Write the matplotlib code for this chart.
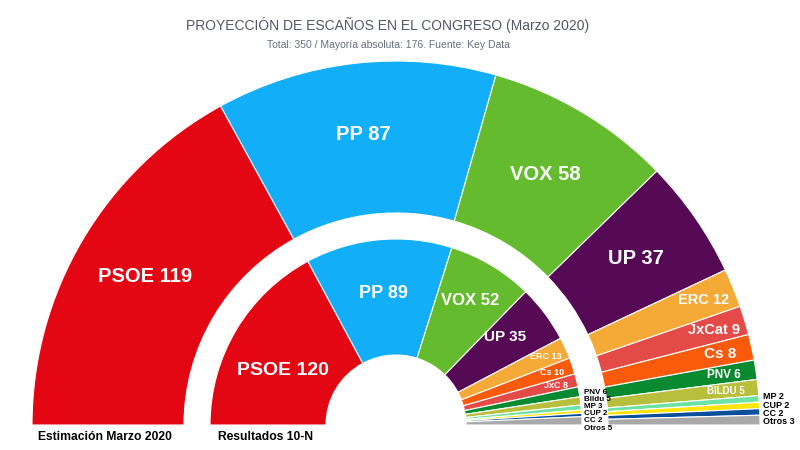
import matplotlib.pyplot as plt
from matplotlib.patches import Wedge
import numpy as np

plt.rcParams['font.family'] = ['Liberation Sans', 'DejaVu Sans']

total = 350

# Estimación Marzo 2020 (outer ring)
est_parties = ["PSOE", "PP", "VOX", "UP", "ERC", "JxCat", "Cs", "PNV", "BILDU",
               "MP", "CUP", "CC", "Otros"]
est_seats = [119, 87, 58, 37, 12, 9, 8, 6, 5, 2, 2, 2, 3]

# Resultados 10-N (inner ring)
res_parties = ["PSOE", "PP", "VOX", "UP", "ERC", "Cs", "JxC", "PNV", "Bildu",
               "MP", "CUP", "CC", "Otros"]
res_seats = [120, 89, 52, 35, 13, 10, 8, 6, 5, 3, 2, 2, 5]

colors = {
    "PSOE": "#e30613", "PP": "#12aef8", "VOX": "#64bb2e", "UP": "#560a56",
    "ERC": "#f5aa38", "JxCat": "#e44a47", "JxC": "#e44a47", "Cs": "#fa5a0c",
    "PNV": "#0a8a30", "BILDU": "#b7bf3c", "Bildu": "#b7bf3c", "MP": "#6ce3a4",
    "CUP": "#ffe40a", "CC": "#0b4f9c", "Otros": "#a9a9a9",
}

fig = plt.figure(figsize=(8, 4.5), dpi=100)
ax = fig.add_axes([0, 0, 1, 1])
ax.set_xlim(0, 800)
ax.set_ylim(0, 450)
ax.axis('off')

cx, cy = 396, 25


def draw_ring(parties, seats, r_in, r_out):
    edges = 180 - np.cumsum([0] + seats) / total * 180
    for i, p in enumerate(parties):
        ax.add_patch(Wedge((cx, cy), r_out, edges[i + 1], edges[i],
                           width=r_out - r_in, facecolor=colors[p],
                           edgecolor='white', linewidth=0.8))
    return np.radians((edges[:-1] + edges[1:]) / 2)


def polar(r, a):
    return cx + r * np.cos(a), cy + r * np.sin(a)


# outer ring
R_in, R_out = 212, 364
mids = draw_ring(est_parties, est_seats, R_in, R_out)
big_sizes = [14.5, 14.5, 14.5, 14.5]
mid_sizes = [10.5, 10.5, 11, 8.5, 7]
tiny = []
for i, (p, s) in enumerate(zip(est_parties, est_seats)):
    label = f"{p} {s}"
    if i < 4:
        x, y = polar(292, mids[i])
        ax.text(x, y, label, color='white', fontsize=big_sizes[i],
                fontweight='bold', ha='center', va='center')
    elif s >= 5:
        x, y = polar(332, mids[i])
        ax.text(x, y, label, color='white', fontsize=mid_sizes[i - 4],
                fontweight='bold', ha='center', va='center')
    else:
        tiny.append(label)
for k, label in enumerate(tiny):
    ax.text(cx + R_out + 3, cy + 3 + (len(tiny) - 1 - k) * 8.4, label,
            color='black', fontsize=6.5, fontweight='bold',
            ha='left', va='center')

# inner ring
r_in, r_out = 70, 186
mids = draw_ring(res_parties, res_seats, r_in, r_out)
inner_sizes = [14, 13, 12, 11]
inner_lab_r = [126, 132, 145, 140]
inner_lab_shift = [5, 0, 0, 2]  # degrees
tiny = []
for i, (p, s) in enumerate(zip(res_parties, res_seats)):
    label = f"{p} {s}"
    if i < 4:
        x, y = polar(inner_lab_r[i], mids[i] + np.radians(inner_lab_shift[i]))
        ax.text(x, y, label, color='white', fontsize=inner_sizes[i],
                fontweight='bold', ha='center', va='center')
    elif i < 7:
        x, y = polar(165, mids[i])
        ax.text(x, y, label, color='white', fontsize=6.5,
                fontweight='bold', ha='center', va='center')
    else:
        tiny.append(label)
for k, label in enumerate(tiny):
    ax.text(cx + r_out + 2, cy - 3 + (len(tiny) - 1 - k) * 7.2, label,
            color='black', fontsize=5.8, fontweight='bold',
            ha='left', va='center')

# titles
ax.text(388, 425, "PROYECCIÓN DE ESCAÑOS EN EL CONGRESO (Marzo 2020)",
        color='#4f5a66', fontsize=10, ha='center', va='center')
ax.text(388, 405, "Total: 350 / Mayoría absoluta: 176. Fuente: Key Data",
        color='#66707c', fontsize=7.5, ha='center', va='center')

ax.text(105, 13, "Estimación Marzo 2020", color='black', fontsize=8.7,
        fontweight='bold', ha='center', va='center')
ax.text(266, 13, "Resultados 10-N", color='black', fontsize=8.7,
        fontweight='bold', ha='center', va='center')

fig.savefig("out.png", dpi=100)
